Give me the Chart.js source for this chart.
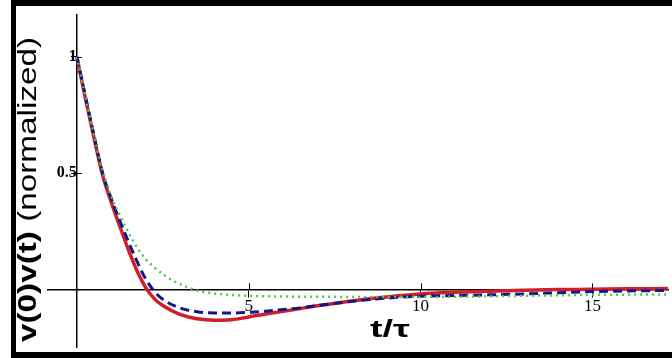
<!DOCTYPE html>
<html>
<head>
<meta charset="utf-8">
<script src="https://cdn.jsdelivr.net/npm/chart.js@4.4.0/dist/chart.umd.min.js"></script>
<style>
  html, body { margin: 0; padding: 0; background: #fff; }
  #wrap { width: 672px; height: 358px; }
</style>
</head>
<body>
<div id="wrap"><canvas id="myChart" width="672" height="358"></canvas></div>
<script>
// time in units of tau
const tValues = [0, 0.25, 0.5, 0.75, 1, 1.25, 1.5, 1.75, 2, 2.25, 2.5, 3, 3.5, 4, 4.5, 5, 5.5, 6, 6.5, 7, 8, 9, 10, 11, 12, 13, 14, 15, 16, 17.2];
const redCurve = [1, 0.82, 0.65, 0.49, 0.375, 0.27, 0.17, 0.08, 0.008, -0.04, -0.07, -0.108, -0.127, -0.133, -0.131, -0.119, -0.106, -0.095, -0.083, -0.071, -0.05, -0.033, -0.02, -0.013, -0.008, -0.004, -0.001, 0, 0.002, 0.003];
const blueCurve = [1, 0.83, 0.66, 0.5, 0.39, 0.295, 0.205, 0.12, 0.045, -0.008, -0.043, -0.08, -0.097, -0.102, -0.102, -0.099, -0.094, -0.087, -0.08, -0.07, -0.052, -0.038, -0.03, -0.027, -0.024, -0.02, -0.015, -0.01, -0.007, -0.005];
const greenCurve = [1, 0.83, 0.66, 0.51, 0.4, 0.32, 0.245, 0.18, 0.13, 0.095, 0.065, 0.022, -0.005, -0.018, -0.024, -0.028, -0.03, -0.031, -0.032, -0.032, -0.033, -0.033, -0.033, -0.032, -0.03, -0.028, -0.026, -0.024, -0.023, -0.022];

const xTicks = [5, 10, 15];
const yTicks = [0.5, 1];
const xLabel = 't/τ';
const yLabelBold = 'v(0)v(t)';
const yLabelRest = ' (normalized)';

function toPoints(series) {
    return tValues.map((t, i) => ({ x: t, y: series[i] }));
}

// frame, crossing tick marks and axis titles
const decorations = {
    id: 'decorations',
    beforeDraw(chart) {
        const ctx = chart.ctx;
        ctx.save();
        ctx.fillStyle = '#fff';
        ctx.fillRect(0, 0, chart.width, chart.height);
        ctx.restore();
    },
    afterDraw(chart) {
        const ctx = chart.ctx;
        const xs = chart.scales.x, ys = chart.scales.y;
        const x0 = xs.getPixelForValue(0), y0 = ys.getPixelForValue(0);
        ctx.save();
        ctx.strokeStyle = '#000';
        ctx.lineWidth = 1;
        xTicks.forEach(v => {
            const px = Math.round(xs.getPixelForValue(v)) + 0.5;
            ctx.beginPath(); ctx.moveTo(px, y0 - 6); ctx.lineTo(px, y0); ctx.stroke();
        });
        yTicks.forEach(v => {
            const py = Math.round(ys.getPixelForValue(v)) + 0.5;
            ctx.beginPath(); ctx.moveTo(x0, py); ctx.lineTo(x0 + 5, py); ctx.stroke();
        });

        // black frame
        ctx.fillStyle = '#000';
        ctx.fillRect(11, 0, 5, 358);
        ctx.fillRect(11, 0, 661, 6);
        ctx.fillRect(11, 352, 661, 6);

        // y title, rotated and stretched to the original length
        ctx.fillStyle = '#000';
        ctx.textBaseline = 'alphabetic';
        ctx.font = 'bold 26px "Liberation Sans"';
        const wBold = ctx.measureText(yLabelBold).width;
        ctx.font = '26px "Liberation Sans"';
        const wRest = ctx.measureText(yLabelRest).width;
        const stretch = 305 / (wBold + wRest);
        ctx.save();
        ctx.translate(36, 342);
        ctx.rotate(-Math.PI / 2);
        ctx.scale(stretch, 1);
        ctx.textAlign = 'left';
        ctx.font = 'bold 26px "Liberation Sans"';
        ctx.fillText(yLabelBold, 0, 0);
        ctx.font = '26px "Liberation Sans"';
        ctx.fillText(yLabelRest, wBold, 0);
        ctx.restore();

        // x title
        ctx.font = 'bold 24px "Liberation Sans"';
        const wx = ctx.measureText(xLabel).width;
        ctx.save();
        ctx.translate(390, 337);
        ctx.scale(40 / wx, 1);
        ctx.textAlign = 'center';
        ctx.fillText(xLabel, 0, 0);
        ctx.restore();
        ctx.restore();
    }
};

const ctx = document.getElementById('myChart').getContext('2d');
window.myChart = new Chart(ctx, {
    type: 'line',
    data: {
        datasets: [{
            label: 'red',
            data: toPoints(redCurve),
            borderColor: 'rgb(208, 32, 40)',
            borderWidth: 3.5,
            pointRadius: 0,
            cubicInterpolationMode: 'monotone',
            order: 3
        }, {
            label: 'blue',
            data: toPoints(blueCurve),
            borderColor: 'rgb(22, 22, 140)',
            borderWidth: 3,
            borderDash: [9, 5],
            pointRadius: 0,
            cubicInterpolationMode: 'monotone',
            order: 2
        }, {
            label: 'green',
            data: toPoints(greenCurve),
            borderColor: 'rgb(80, 200, 70)',
            borderWidth: 2.5,
            borderDash: [2, 4],
            pointRadius: 0,
            cubicInterpolationMode: 'monotone',
            order: 1
        }]
    },
    options: {
        responsive: false,
        animation: false,
        devicePixelRatio: 1,
        layout: { padding: { left: 48, right: 4, top: 15, bottom: 8 } },
        plugins: {
            legend: { display: false },
            tooltip: { enabled: false }
        },
        scales: {
            x: {
                type: 'linear',
                min: -0.84,
                max: 17.2,
                position: { y: 0 },
                afterBuildTicks: scale => { scale.ticks = xTicks.map(v => ({ value: v })); },
                grid: { drawOnChartArea: false, drawTicks: true, tickLength: 7, tickColor: '#000' },
                border: { display: true, color: '#000', width: 1.5 },
                ticks: {
                    color: '#000',
                    padding: 0,
                    maxRotation: 0,
                    autoSkip: false,
                    callback: v => String(v),
                    font: { family: '"Liberation Serif"', size: 17 }
                }
            },
            y: {
                type: 'linear',
                min: -0.25,
                max: 1.18,
                position: { x: 0 },
                afterBuildTicks: scale => { scale.ticks = yTicks.map(v => ({ value: v })); },
                grid: { drawOnChartArea: false, drawTicks: true, tickLength: 5, tickColor: '#000' },
                border: { display: true, color: '#000', width: 1.5 },
                ticks: {
                    color: '#000',
                    padding: 1,
                    callback: v => String(v),
                    font: { family: '"Liberation Serif"', size: 16, weight: 'bold' }
                }
            }
        }
    },
    plugins: [decorations]
});
</script>
</body>
</html>
